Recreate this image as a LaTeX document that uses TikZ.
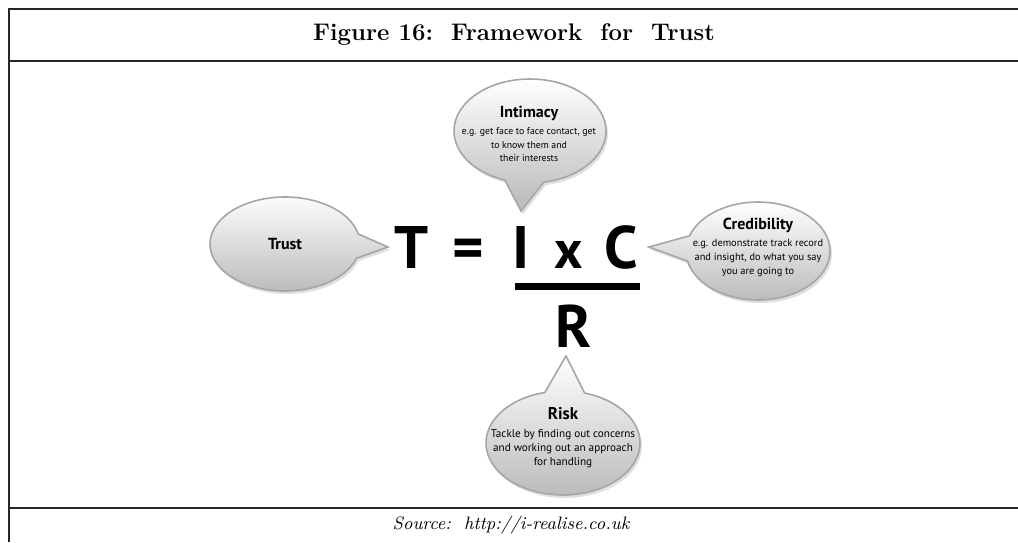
\documentclass[tikz,border=0pt]{standalone}
\usepackage{fontspec}
\usepackage{tikz}
\usetikzlibrary{shapes.callouts}
\usetikzlibrary{shadows}
\usetikzlibrary{positioning}
\newfontfamily\bubblefont{PT Sans}
\tikzset{every picture/.style={line width=1pt},
  bubble/.style={ellipse callout, draw=gray!70, line width=0.8pt, top color=white, bottom color=gray!55, inner sep=0pt, callout pointer arc=30, drop shadow={opacity=0.25, shadow xshift=1pt, shadow yshift=-1.5pt}},
  bubbletext/.style={align=center, font=\bubblefont\fontsize{5.2}{6.8}\selectfont, inner sep=0pt},
  head/.style={font=\bubblefont\bfseries\fontsize{8}{9}\selectfont},
  eq/.style={font=\bubblefont\bfseries\fontsize{30}{30}\selectfont, inner sep=0pt, anchor=base},
  rule/.style={line width=1pt, black!85}}
\begin{document}
\begin{tikzpicture}[x=0.5pt,y=-0.5pt]
\useasboundingbox (0,0) rectangle (1018,542);
% frame
\draw[rule] (9,542) -- (9,9) -- (1018,9);
\draw[rule] (9,61) -- (1018,61);
\draw[rule] (9,508) -- (1018,508);
\node (title) at (514,35) {\bfseries\fontsize{12}{14}\selectfont Figure 16:\ \ Framework\ \ for\ \ Trust};
\node (source) at (511,525) {\itshape\fontsize{9}{11}\selectfont Source:\ \ http://i-realise.co.uk};
% the formula
\node[eq] (T) at (412,268) {T};
\node[eq] (eqsign) at (468,268) {=};
\node[eq] (I) at (521,268) {I};
\node[eq, font=\bubblefont\bfseries\fontsize{27}{27}\selectfont] (x) at (569,268) {x};
\node[eq] (C) at (621,268) {C};
\node[eq] (R) at (574,347) {R};
\draw[line width=3.5pt] (515,286) -- (640,286);
% where the bubbles point
\coordinate[left=3pt of T] (tipT);
\coordinate[above=7pt of I] (tipI);
\coordinate[right=5pt of C] (tipC);
\coordinate[below=4pt of R, xshift=-4pt] (tipR);
% bubbles
\node[bubble, minimum width=75pt, minimum height=47pt, callout absolute pointer={(tipT)}] (trust) at (285,244) {};
\node[bubble, minimum width=76pt, minimum height=52pt, callout absolute pointer={(tipI)}] (intimacy) at (530,131) {};
\node[bubble, minimum width=72pt, minimum height=49pt, callout absolute pointer={(tipC)}] (credibility) at (758,251) {};
\node[bubble, minimum width=77pt, minimum height=52pt, callout absolute pointer={(tipR)}] (risk) at (563,443) {};
\node[head] (trusttext) at (trust.center) {Trust};
\node[bubbletext, font=\bubblefont\fontsize{4.9}{6.7}\selectfont] (intimacytext) at (529,134) {{\bfseries\fontsize{8}{9}\selectfont Intimacy}\\[2pt] e.g. get face to face contact, get\\ to know them and\\ their interests};
\node[bubbletext] (credibilitytext) at (758,247) {{\bfseries\fontsize{8}{9}\selectfont Credibility}\\[2pt] e.g. demonstrate track record\\ and insight, do what you say\\ you are going to};
\node[bubbletext, font=\bubblefont\fontsize{5.6}{7}\selectfont] (risktext) at (563,438) {{\bfseries\fontsize{8.5}{9}\selectfont Risk}\\[2pt] Tackle by finding out concerns\\ and working out an approach\\ for handling};
\end{tikzpicture}
\end{document}
